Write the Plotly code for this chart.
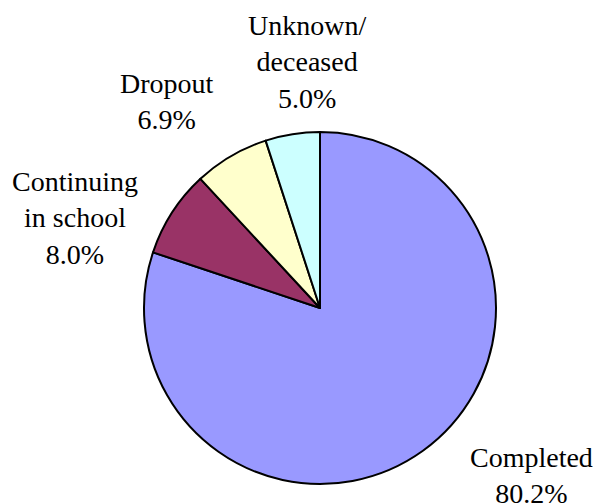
import plotly.graph_objects as go

categories = ["Completed", "Continuing<br>in school", "Dropout", "Unknown/<br>deceased"]
values = [80.2, 8.0, 6.9, 5.0]
colors = ["#9999FF", "#993366", "#FFFFCC", "#CCFFFF"]

W, H = 597, 504
# label block centers in pixels (x, y of block middle)
label_pos = [(531, 475), (75, 218), (167, 102), (307, 62)]
FONT = "Liberation Serif"

fig = go.Figure()
fig.add_trace(go.Pie(
    labels=categories,
    values=values,
    sort=False,
    direction="clockwise",
    rotation=0,
    marker=dict(colors=colors, line=dict(color="black", width=2)),
    textinfo="none",
    hoverinfo="label+value",
    showlegend=False,
    domain=dict(x=[144 / W, 496 / W], y=[(196 - 176) / H, (196 + 176) / H]),
))

for lab, v, (px, py) in zip(categories, values, label_pos):
    fig.add_annotation(
        text=f"{lab}<br>{v:.1f}%",
        x=px / W, y=1 - py / H, xref="paper", yref="paper",
        xanchor="center", yanchor="middle", showarrow=False,
        font=dict(family=FONT, size=28, color="black"),
    )

fig.update_layout(
    width=W, height=H,
    margin=dict(l=0, r=0, t=0, b=0),
    paper_bgcolor="white", plot_bgcolor="white",
    font=dict(family=FONT),
)
fig.write_html("out.html", post_script="document.body.style.margin='0';",
               config={"displayModeBar": False})
